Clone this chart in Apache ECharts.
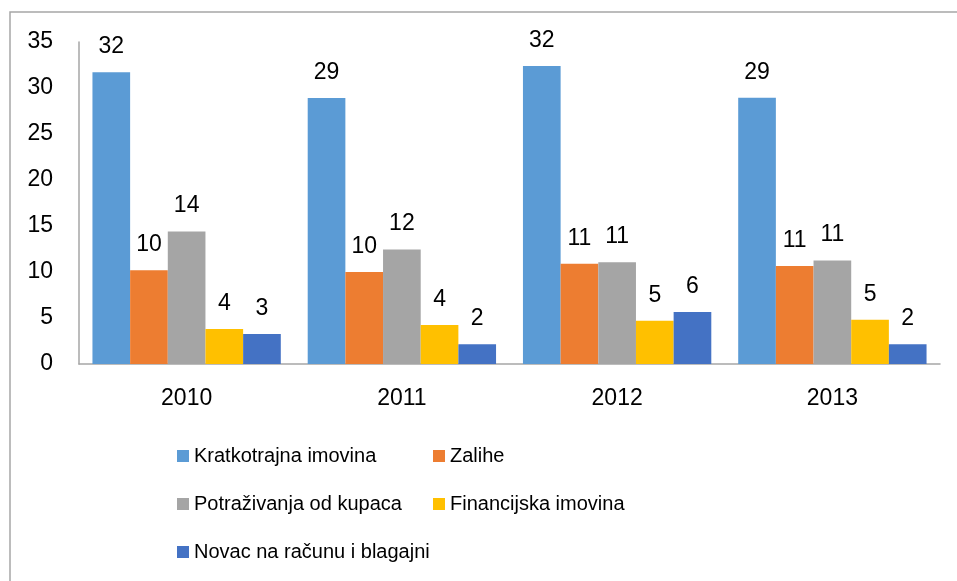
<!DOCTYPE html>
<html>
<head>
<meta charset="utf-8">
<script src="https://cdn.jsdelivr.net/npm/echarts@6/dist/echarts.min.js"></script>
<style>
  html, body { margin: 0; padding: 0; background: #fff; }
  #chart { width: 957px; height: 581px; }
</style>
</head>
<body>
<div id="chart"></div>
<script>
const years = ['2010', '2011', '2012', '2013']
const seriesNames = [
  'Kratkotrajna imovina',
  'Zalihe',
  'Potraživanja od kupaca',
  'Financijska imovina',
  'Novac na računu i blagajni'
]
const kratkotrajna = [31.7, 28.9, 32.4, 28.95]
const zalihe = [10.2, 10.0, 10.9, 10.65]
const potrazivanja = [14.4, 12.45, 11.05, 11.25]
const financijska = [3.8, 4.25, 4.7, 4.8]
const novac = [3.25, 2.15, 5.65, 2.15]
const colors = ['#5B9BD5', '#ED7D31', '#A5A5A5', '#FFC000', '#4472C4']

const FONT = '"Liberation Sans", Arial, sans-serif'
const values = [kratkotrajna, zalihe, potrazivanja, financijska, novac]

const chart = echarts.init(document.getElementById('chart'))

const series = seriesNames.map((name, i) => ({
  name,
  type: 'bar',
  data: values[i],
  itemStyle: { color: colors[i] },
  barGap: '0%',
  barCategoryGap: '12.5%',
  label: {
    show: true,
    position: 'top',
    distance: 14,
    color: '#000',
    fontSize: 23,
    fontFamily: FONT,
    formatter: p => Math.round(p.value)
  }
}))

const legendText = { fontSize: 20, color: '#000', fontFamily: FONT, lineHeight: 20 }

chart.setOption({
  animation: false,
  backgroundColor: '#fff',
  graphic: [{
    type: 'polyline',
    shape: { points: [[10, 600], [10, 12], [970, 12]] },
    style: { stroke: '#a6a6a6', lineWidth: 1.5, fill: null }
  }],
  grid: { left: 79, right: 17, top: 42, bottom: 217 },
  legend: [
    {
      orient: 'vertical',
      left: 177, top: 446,
      padding: 0,
      itemWidth: 12, itemHeight: 12, itemGap: 28,
      icon: 'rect',
      textStyle: legendText,
      data: [seriesNames[0], seriesNames[2], seriesNames[4]]
    },
    {
      orient: 'vertical',
      left: 433, top: 446,
      padding: 0,
      itemWidth: 12, itemHeight: 12, itemGap: 28,
      icon: 'rect',
      textStyle: legendText,
      data: [seriesNames[1], seriesNames[3]]
    }
  ],
  xAxis: {
    type: 'category',
    data: years,
    axisLine: { lineStyle: { color: '#a6a6a6', width: 1.5 } },
    axisTick: { show: false },
    axisLabel: { color: '#000', fontSize: 23, fontFamily: FONT, margin: 23 }
  },
  yAxis: {
    type: 'value',
    min: 0, max: 35, interval: 5,
    axisLine: { show: true, lineStyle: { color: '#a6a6a6', width: 1.5 } },
    axisTick: { show: false },
    splitLine: { show: false },
    axisLabel: { color: '#000', fontSize: 23, fontFamily: FONT, margin: 26 }
  },
  series
})
</script>
</body>
</html>
